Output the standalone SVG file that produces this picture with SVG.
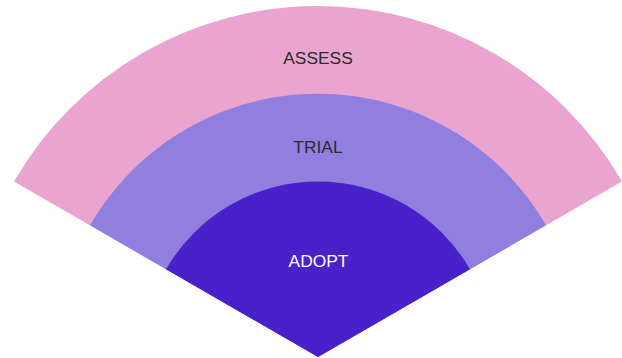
<svg xmlns="http://www.w3.org/2000/svg" width="622" height="358" viewBox="0 0 622 358">
<style>
.lbl{font-family:"Liberation Sans",Arial,sans-serif;font-size:17.4px;text-anchor:middle}
.dark{fill:#2b2b2b}
.light{fill:#ffffff}
</style>
<rect width="622" height="358" fill="#ffffff"/>
<g id="assess">
<path d="M318,357 L14.02,181.5 A351,351 0 0 1 621.98,181.5 Z" fill="#EAA4D0"/>
<text class="lbl dark" x="318" y="64">ASSESS</text>
</g>
<g id="trial">
<path d="M318,357 L90.02,225.37 A263.25,263.25 0 0 1 545.98,225.37 Z" fill="#917FE0"/>
<text class="lbl dark" x="318" y="152.7">TRIAL</text>
</g>
<g id="adopt">
<path d="M318,357 L166.01,269.25 A175.5,175.5 0 0 1 469.99,269.25 Z" fill="#4821CB"/>
<text class="lbl light" x="318.5" y="267">ADOPT</text>
</g>
<g id="connectors"></g>
</svg>
